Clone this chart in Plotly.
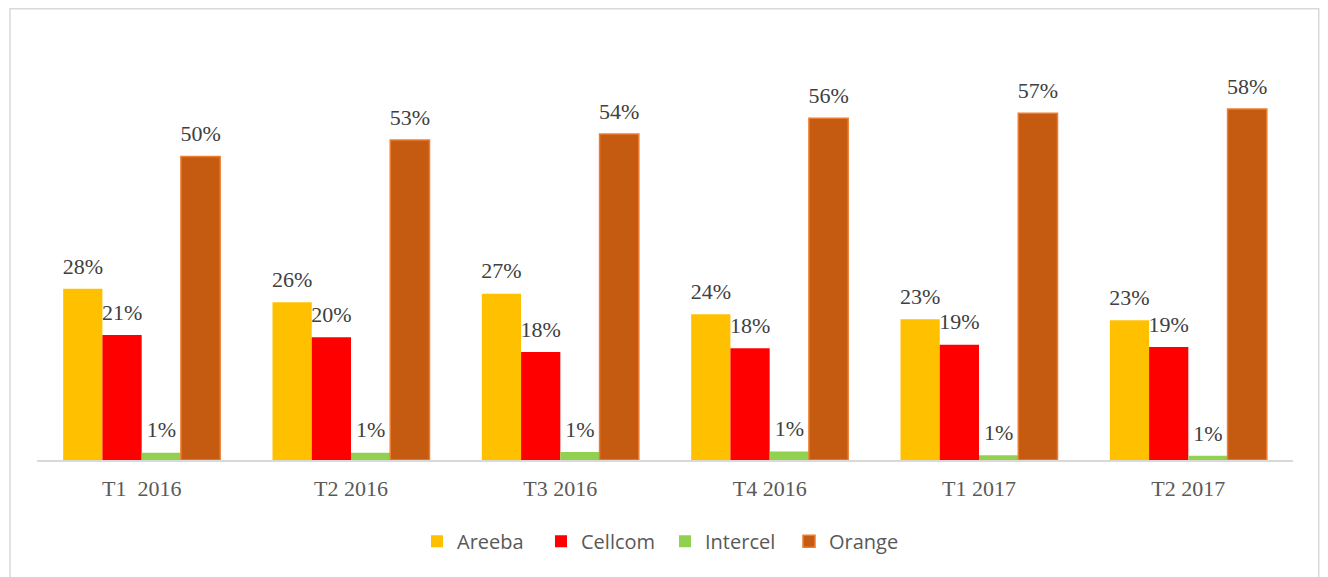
import plotly.graph_objects as go

categories = ["T1  2016", "T2 2016", "T3 2016", "T4 2016", "T1 2017", "T2 2017"]
areeba = [0.282, 0.26, 0.274, 0.24, 0.232, 0.23]
cellcom = [0.206, 0.202, 0.178, 0.184, 0.19, 0.186]
intercel = [0.012, 0.012, 0.013, 0.014, 0.008, 0.007]
orange = [0.50, 0.527, 0.537, 0.563, 0.571, 0.578]

series = [
    ("Areeba", areeba, "#FFC000", "#FFC000"),
    ("Cellcom", cellcom, "#FF0000", "#FF0000"),
    ("Intercel", intercel, "#92D050", "#92D050"),
    ("Orange", orange, "#C55A11", "#ED7D31"),
]

fig = go.Figure()
for name, vals, fill, line in series:
    fig.add_trace(go.Bar(
        x=categories, y=vals, name=name, offsetgroup=name,
        marker=dict(color=fill, line=dict(color=line, width=1.5 if name == "Orange" else 0)),
    ))
for name, vals, fill, line in series:
    fig.add_trace(go.Scatter(
        x=categories, y=vals, name=name, offsetgroup=name, showlegend=False,
        mode="text+markers", marker=dict(size=14, opacity=0),
        text=[f"{v:.0%}" for v in vals], textposition="top center",
        textfont=dict(family="Liberation Serif", size=22, color="#404040"),
        cliponaxis=False, hoverinfo="skip",
    ))

fig.update_layout(
    width=1320, height=569,
    barmode="group", bargap=0.25, bargroupgap=0,
    scattermode="group", scattergap=0.25,
    plot_bgcolor="white", paper_bgcolor="white",
    margin=dict(l=29, r=35, t=27, b=117),
    xaxis=dict(showline=True, linecolor="#D9D9D9", linewidth=1.5, ticks="",
               ticklabelstandoff=8,
               tickfont=dict(family="Liberation Serif", size=22, color="#595959")),
    yaxis=dict(range=[0, 0.70], visible=False),
    legend=dict(orientation="h", x=0.5, xanchor="center", y=-0.145, yanchor="top",
                font=dict(family="Open Sans", size=20, color="#595959"),
                itemwidth=30, entrywidth=79, traceorder="normal"),
    shapes=[dict(type="rect", xref="paper", yref="paper", x0=-0.0215, x1=1.0205, y0=-0.30, y1=1.062,
                 line=dict(color="#D9D9D9", width=1.5), fillcolor="rgba(0,0,0,0)")],
)

fig.write_html("out.html")
